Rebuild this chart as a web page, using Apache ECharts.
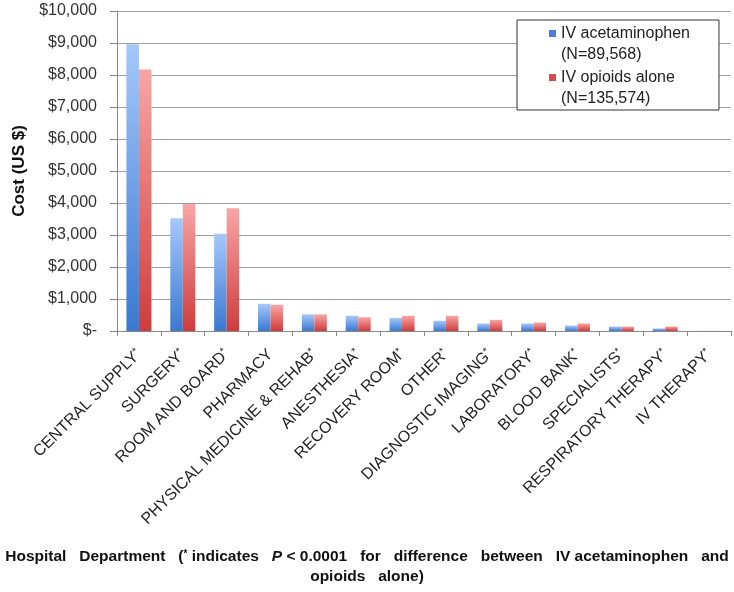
<!DOCTYPE html>
<html><head><meta charset="utf-8">
<script src="https://cdn.jsdelivr.net/npm/echarts@6/dist/echarts.min.js"></script>
<style>html,body{margin:0;padding:0;background:#fff}#c{width:734px;height:592px}</style>
</head><body><div id="c"></div>
<script>
const categories = ["CENTRAL SUPPLY*","SURGERY*","ROOM AND BOARD*","PHARMACY","PHYSICAL MEDICINE & REHAB*","ANESTHESIA*","RECOVERY ROOM*","OTHER*","DIAGNOSTIC IMAGING*","LABORATORY*","BLOOD BANK*","SPECIALISTS*","RESPIRATORY THERAPY*","IV THERAPY*"];
const acetaminophen = [8960, 3520, 3040, 850, 520, 475, 410, 320, 235, 235, 170, 140, 80, 4];
const opioids = [8170, 3970, 3835, 820, 520, 430, 475, 475, 350, 265, 235, 140, 140, 6];
const yTicks = [0, 10000, 1000];
const seriesNames = ["IV acetaminophen\n(N=89,568)", "IV opioids alone\n(N=135,574)"];

const FONT = "Liberation Sans";
function grad(top, bottom){
  return new echarts.graphic.LinearGradient(0,0,0,1,[{offset:0,color:top},{offset:1,color:bottom}]);
}
const legendIcon = 'path://M0,7L7,7L7,14L0,14Z M0,0L0.01,0 M0,42L0.01,42';
const titleRich = {
  b:{fontFamily:FONT, fontSize:15.5, fontWeight:'bold', fill:'#111'},
  s:{fontFamily:FONT, fontSize:10, fontWeight:'bold', fill:'#111', padding:[0,0,6,0]},
  i:{fontFamily:FONT, fontSize:15.5, fontWeight:'bold', fontStyle:'italic', fill:'#111'}
};
const chart = echarts.init(document.getElementById('c'), null, {renderer:'canvas'});
chart.setOption({
  animation:false,
  textStyle:{fontFamily:FONT},
  grid:{left:117, right:3, top:11, bottom:261, containLabel:false},
  legend:{
    orient:'vertical', left:517, top:20,
    padding:[3,29,1,32], itemGap:2,
    backgroundColor:'#fff', borderColor:'#333', borderWidth:1,
    itemWidth:7, itemHeight:42,
    textStyle:{fontFamily:FONT, fontSize:16, color:'#222', lineHeight:21},
    data:[{name:seriesNames[0], icon:legendIcon, itemStyle:{color:'#4a80d6', borderWidth:0}},
          {name:seriesNames[1], icon:legendIcon, itemStyle:{color:'#da4a4a', borderWidth:0}}]
  },
  xAxis:{
    type:'category', data:categories,
    axisLine:{lineStyle:{color:'#888'}},
    axisTick:{show:true, length:5, alignWithLabel:false, lineStyle:{color:'#888'}},
    axisLabel:{rotate:45, interval:0, fontSize:16, color:'#222', fontFamily:FONT, margin:21,
      formatter:function(v){ return v.replace('*','{s|*}'); },
      rich:{s:{fontSize:10, fontFamily:FONT, color:'#222', padding:[0,0,6,0]}}}
  },
  yAxis:{
    type:'value', min:yTicks[0], max:yTicks[1], interval:yTicks[2],
    axisLine:{show:true, lineStyle:{color:'#888'}},
    axisTick:{show:true, length:7, lineStyle:{color:'#888'}},
    splitLine:{lineStyle:{color:'#a0a0a0', width:1}},
    axisLabel:{fontSize:16, color:'#333', fontFamily:FONT, margin:20,
      formatter:function(v){ return v===0 ? '$-' : '$' + v.toLocaleString('en-US'); }},
    name:'Cost (US $)', nameLocation:'middle', nameGap:86, nameRotate:90,
    nameTextStyle:{fontFamily:FONT, fontSize:17, fontWeight:'bold', color:'#111'}
  },
  series:[
    {name:seriesNames[0], type:'bar', data:acetaminophen, barGap:'0%', barCategoryGap:'43%',
     itemStyle:{color:grad('#a6c8fa','#3a78d0')}},
    {name:seriesNames[1], type:'bar', data:opioids, barGap:'0%', barCategoryGap:'43%',
     itemStyle:{color:grad('#f9a5a5','#cf3c3c')}}
  ],
  graphic:[{
    type:'text', left:'center', top:549,
    style:{
      text:'{b|Hospital   Department   (}{s|*}{b| indicates   }{i|P}{b| < 0.0001   for   difference   between   IV acetaminophen   and}',
      rich:titleRich
    }
  },{
    type:'text', left:'center', top:569,
    style:{ text:'{b|opioids   alone)}', rich:titleRich }
  }]
});
</script></body></html>
